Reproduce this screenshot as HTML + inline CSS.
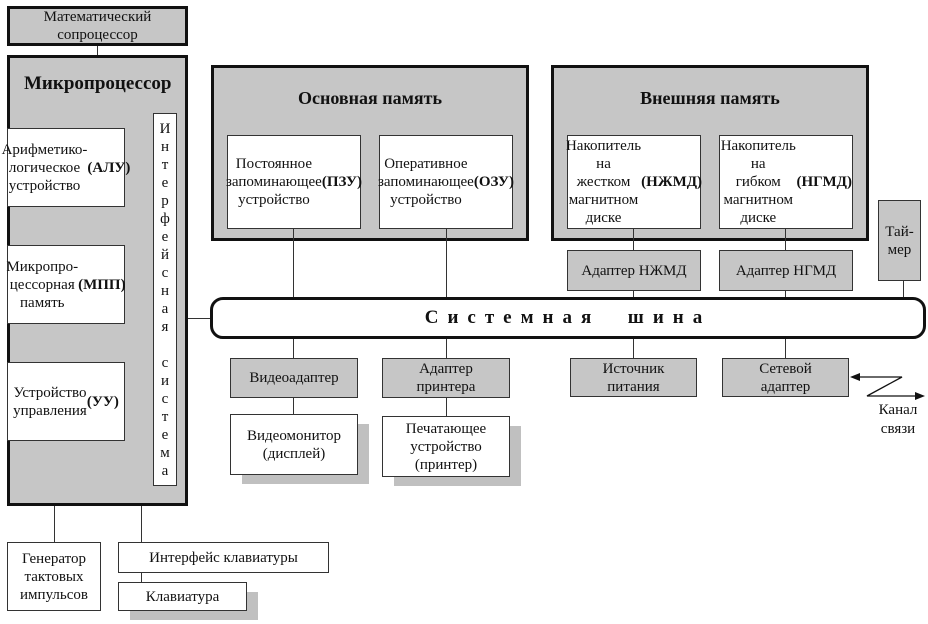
<!DOCTYPE html>
<html><head><meta charset="utf-8"><style>
body{margin:0;width:928px;height:624px;background:#fff;position:relative;overflow:hidden;font-family:"Liberation Serif","DejaVu Serif",serif;color:#111}
.b{position:absolute;box-sizing:border-box;border:1px solid #333;display:flex;align-items:center;justify-content:center;text-align:center;font-size:15px;line-height:18px}
.g{background:#c6c6c6}.w{background:#fff}
.t{border:3px solid #111}
.l{position:absolute;background:#333}
.sh{position:absolute;background:#c0c0c0}
b{font-weight:bold}
</style></head><body>
<div class="b g t" style="left:7px;top:6px;width:181px;height:40px">Математический<br>сопроцессор</div>
<div class="l" style="left:97px;top:46px;width:1px;height:10px"></div>
<div class="b g t" style="left:7px;top:55px;width:181px;height:451px"></div>
<div style="position:absolute;left:24px;top:73px;font-size:19px;font-weight:bold;white-space:nowrap;width:162px;overflow:hidden">Микропроцессор</div>
<div class="b w" style="left:7px;top:128px;width:118px;height:79px">Арифметико-<br>логическое<br>устройство<br><b>(АЛУ)</b></div>
<div class="b w" style="left:7px;top:245px;width:118px;height:79px">Микропро-<br>цессорная<br>память<br><b>(МПП)</b></div>
<div class="b w" style="left:7px;top:362px;width:118px;height:79px">Устройство<br>управления<br><b>(УУ)</b></div>
<div class="b w" style="left:153px;top:113px;width:24px;height:373px;line-height:18px;font-size:15px">И<br>н<br>т<br>е<br>р<br>ф<br>е<br>й<br>с<br>н<br>а<br>я<br><br>с<br>и<br>с<br>т<br>е<br>м<br>а</div>
<div class="l" style="left:54px;top:506px;width:1px;height:37px"></div>
<div class="l" style="left:141px;top:506px;width:1px;height:77px"></div>
<div class="b w" style="left:7px;top:542px;width:94px;height:69px">Генератор<br>тактовых<br>импульсов</div>
<div class="b w" style="left:118px;top:542px;width:211px;height:31px">Интерфейс клавиатуры</div>
<div class="sh" style="left:130px;top:592px;width:128px;height:28px"></div>
<div class="b w" style="left:118px;top:582px;width:129px;height:29px">Клавиатура</div>
<div class="b g t" style="left:211px;top:65px;width:318px;height:176px"></div>
<div style="position:absolute;left:211px;top:88px;width:318px;text-align:center;font-size:18px;font-weight:bold">Основная память</div>
<div class="b w" style="left:227px;top:135px;width:134px;height:94px">Постоянное<br>запоминающее<br>устройство<br><b>(ПЗУ)</b></div>
<div class="b w" style="left:379px;top:135px;width:134px;height:94px">Оперативное<br>запоминающее<br>устройство<br><b>(ОЗУ)</b></div>
<div class="b g t" style="left:551px;top:65px;width:318px;height:176px"></div>
<div style="position:absolute;left:551px;top:88px;width:318px;text-align:center;font-size:18px;font-weight:bold">Внешняя память</div>
<div class="b w" style="left:567px;top:135px;width:134px;height:94px">Накопитель на<br>жестком<br>магнитном<br>диске<br><b>(НЖМД)</b></div>
<div class="b w" style="left:719px;top:135px;width:134px;height:94px">Накопитель на<br>гибком<br>магнитном<br>диске<br><b>(НГМД)</b></div>
<div class="b g" style="left:567px;top:250px;width:134px;height:41px">Адаптер НЖМД</div>
<div class="b g" style="left:719px;top:250px;width:134px;height:41px">Адаптер НГМД</div>
<div class="b g" style="left:878px;top:200px;width:43px;height:81px">Тай-<br>мер</div>
<div class="l" style="left:293px;top:229px;width:1px;height:70px"></div>
<div class="l" style="left:446px;top:229px;width:1px;height:70px"></div>
<div class="l" style="left:633px;top:229px;width:1px;height:21px"></div>
<div class="l" style="left:633px;top:291px;width:1px;height:8px"></div>
<div class="l" style="left:785px;top:229px;width:1px;height:21px"></div>
<div class="l" style="left:785px;top:291px;width:1px;height:8px"></div>
<div class="l" style="left:903px;top:281px;width:1px;height:18px"></div>
<div class="l" style="left:188px;top:318px;width:24px;height:1px"></div>
<div class="l" style="left:293px;top:338px;width:1px;height:21px"></div>
<div class="l" style="left:446px;top:338px;width:1px;height:21px"></div>
<div class="l" style="left:633px;top:338px;width:1px;height:21px"></div>
<div class="l" style="left:785px;top:338px;width:1px;height:21px"></div>
<div class="l" style="left:293px;top:397px;width:1px;height:18px"></div>
<div class="l" style="left:446px;top:397px;width:1px;height:20px"></div>
<div class="b w t" style="left:210px;top:297px;width:716px;height:42px;border-radius:13px;font-size:19px;font-weight:bold;letter-spacing:9px">Системная&nbsp;&nbsp;шина</div>
<div class="b g" style="left:230px;top:358px;width:128px;height:40px">Видеоадаптер</div>
<div class="b g" style="left:382px;top:358px;width:128px;height:40px">Адаптер<br>принтера</div>
<div class="sh" style="left:242px;top:424px;width:127px;height:60px"></div>
<div class="b w" style="left:230px;top:414px;width:128px;height:61px">Видеомонитор<br>(дисплей)</div>
<div class="sh" style="left:394px;top:426px;width:127px;height:60px"></div>
<div class="b w" style="left:382px;top:416px;width:128px;height:61px">Печатающее<br>устройство<br>(принтер)</div>
<div class="b g" style="left:570px;top:358px;width:127px;height:39px">Источник<br>питания</div>
<div class="b g" style="left:722px;top:358px;width:127px;height:39px">Сетевой<br>адаптер</div>
<svg style="position:absolute;left:0;top:0" width="928" height="624">
<polyline points="858,377 902,377 867,396 917,396" fill="none" stroke="#111" stroke-width="1.3"/>
<polygon points="850,377 860,373 860,381" fill="#111"/>
<polygon points="925,396 915,392 915,400" fill="#111"/>
</svg>
<div style="position:absolute;left:868px;top:401px;width:60px;text-align:center;font-size:15px;line-height:19px">Канал<br>связи</div>
</body></html>
